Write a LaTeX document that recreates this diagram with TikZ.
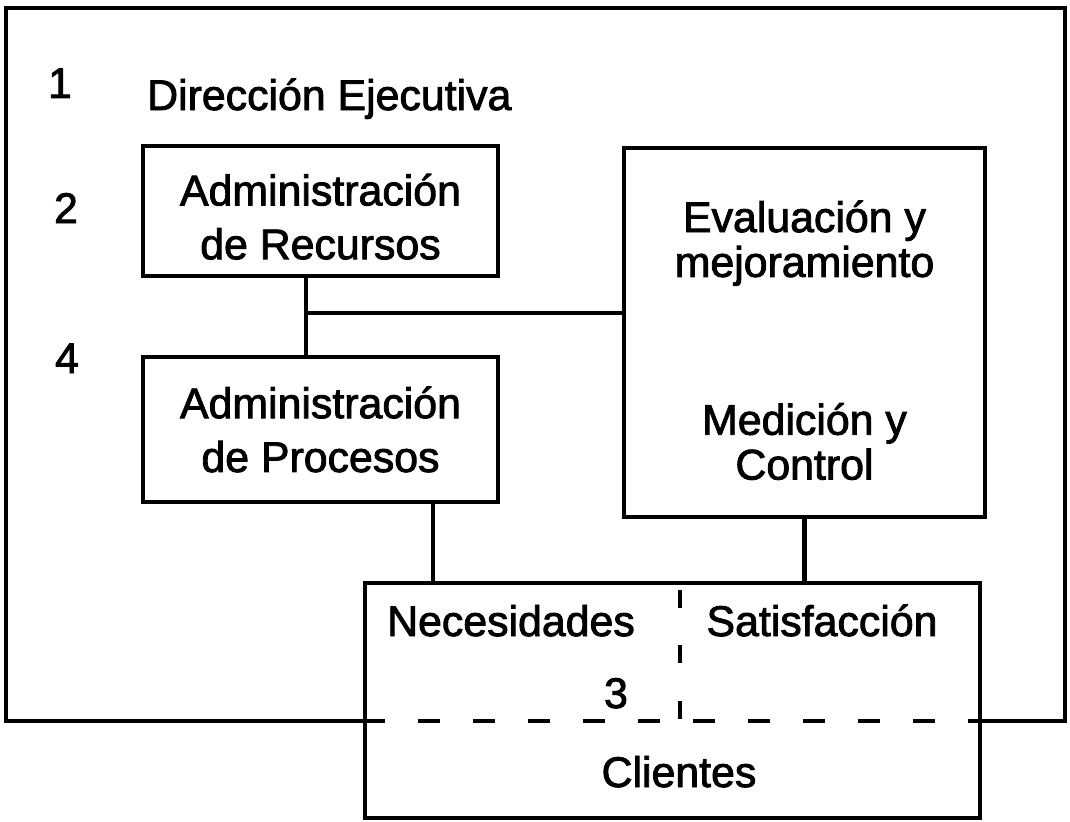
\documentclass[tikz,border=0pt]{standalone}
\usepackage{fontspec}
\setmainfont{Liberation Sans}[FakeBold=2]
\usetikzlibrary{positioning}

\begin{document}
\begin{tikzpicture}[x=1bp,y=-1bp,
                    every node/.style={font=\fontsize{43}{54}\selectfont},
                    block_box/.style ={rectangle, draw=black, line width=4.5bp,
                        align=center, inner sep=0pt},
                    num_label/.style ={inner sep=0pt, anchor=base},
                    line/.style ={draw, line width=4.5bp},
                    cut_line/.style ={draw, line width=4.5bp, dash pattern=on 22bp off 33bp}]
    \useasboundingbox (0,0) rectangle (1070,822);

    % boxes
    \node [block_box, minimum width=355bp, minimum height=130bp] (rec) at (320.5,211)
        {\rule{0pt}{43bp}Administración\\de Recursos};
    \node [block_box, minimum width=355bp, minimum height=145bp] (proc) at (320.5,429.5)
        {Administración\\de Procesos};
    \node [block_box, minimum width=361bp, minimum height=369bp,
           font=\fontsize{43}{45}\selectfont] (eval) at (804.5,332.5)
        {\rule{0pt}{47bp}Evaluación y\\mejoramiento\\[113bp]Medición y\\Control};
    \node [block_box, minimum width=615bp, minimum height=235bp] (cli) at (672.5,700.5) {};

    % texts
    \node [num_label] (one) at (60,98) {1};
    \node [num_label, anchor=base west] (dir) at (147,110) {Dirección Ejecutiva};
    \node [num_label] (two) at (66,223) {2};
    \node [num_label] (four) at (67,373) {4};
    \node [num_label] (three) at (616,708) {3};
    \node [num_label] (nec) at (511,636) {Necesidades};
    \node [num_label] (sat) at (822,636) {Satisfacción};
    \node [num_label] (clients) at (679,787) {Clientes};

    \coordinate (jn) at (306,313);
    \coordinate (base) at (0,721);
    \coordinate (split) at (680,0);

    % connecting nodes with paths
    \path[line] (jn |- rec.south) -- (jn |- proc.north);
    \path[line] (jn) -- (jn -| eval.west);
    \path[line] ([xshift=112.5bp]proc.south) -- ([xshift=112.5bp]proc.south |- cli.north);
    \path[line] (eval.south) -- (eval.south |- cli.north);

    % outer frame and cut
    \path[line, line join=miter] (cli.west |- base) -- (6,721) -- (6,8) -- (1065,8)
        -- (1065,721) -- (cli.east |- base);
    \path[cut_line] (cli.west |- base) -- (cli.east |- base);
    \path[cut_line, dash pattern=on 18bp off 37.5bp, dash phase=46.5bp]
        (split |- cli.north) -- (split |- base);
\end{tikzpicture}
\end{document}
